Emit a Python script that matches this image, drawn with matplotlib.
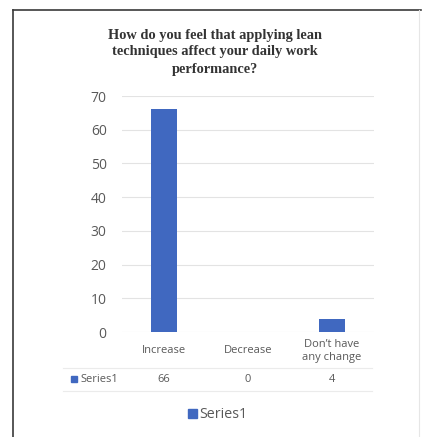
import matplotlib
matplotlib.use("Agg")
import matplotlib.pyplot as plt
from matplotlib.lines import Line2D
from matplotlib.patches import Rectangle

title = "How do you feel that applying lean\ntechniques affect your daily work\nperformance?"
categories = ["Increase", "Decrease", "Don\u2019t have\nany change"]
values = [66, 0, 4]
series_name = "Series1"
yticks = [0, 10, 20, 30, 40, 50, 60, 70]

bar_color = "#4068C0"
text_gray = "#595959"
font = ["Open Sans", "DejaVu Sans"]

W, H = 422, 437
fig = plt.figure(figsize=(W / 100, H / 100), dpi=100)
fig.patch.set_facecolor("white")

def fx(px):
    return px / W

def fy(py):
    return 1 - py / H

ax = fig.add_axes([fx(122), fy(332), fx(374) - fx(122), fy(96) - fy(332)])
x = list(range(len(categories)))
ax.bar(x, values, width=0.31, color=bar_color, zorder=3)
ax.set_xlim(-0.5, len(categories) - 0.5)
ax.set_ylim(0, 70)
ax.set_yticks(yticks)
ax.set_yticklabels([str(t) for t in yticks], fontsize=10, color=text_gray, family=font)
ax.tick_params(axis="y", length=0, pad=11)
ax.set_xticks(x)
ax.set_xticklabels(categories, fontsize=8, color=text_gray, family=font, linespacing=1.3)
for lab in ax.get_xticklabels():
    lab.set_verticalalignment("center")
ax.tick_params(axis="x", length=0, pad=13.5)
for s in ax.spines.values():
    s.set_visible(False)
ax.grid(axis="y", color="#e3e3e3", linewidth=0.8, zorder=0)

# data table row
ty = fy(380)
trans = matplotlib.transforms.blended_transform_factory(ax.transData, fig.transFigure)
for xi, v in zip(x, values):
    fig.text(xi, ty, str(v), transform=trans, ha="center", va="center",
             fontsize=8, color=text_gray, family=font)
fig.patches.append(Rectangle((fx(71), fy(382)), fx(6), fy(376) - fy(382),
                             transform=fig.transFigure, color=bar_color))
fig.text(fx(80), ty, series_name, ha="left", va="center", fontsize=8,
         color=text_gray, family=font)
for yy in (368, 391):
    fig.lines.append(Line2D([fx(63), fx(372)], [fy(yy), fy(yy)], transform=fig.transFigure,
                            color="#ebebeb", linewidth=0.8))

# legend
fig.patches.append(Rectangle((fx(188), fy(418)), fx(9), fy(409) - fy(418),
                             transform=fig.transFigure, color=bar_color))
fig.text(fx(199), fy(414), series_name, ha="left", va="center", fontsize=10.3,
         color=text_gray, family=font)

# title
fig.text(fx(215), fy(52), title, ha="center", va="center", fontsize=10.4,
         fontweight="bold", family=["Liberation Serif", "DejaVu Serif"],
         color="#333333", linespacing=1.4)

# frame of the scanned chart
fig.lines.append(Line2D([fx(13), fx(421)], [fy(10), fy(10)], transform=fig.transFigure,
                        color="#3a3a3a", linewidth=1.2))
fig.lines.append(Line2D([fx(13), fx(13)], [fy(10), fy(437)], transform=fig.transFigure,
                        color="#3a3a3a", linewidth=1.2))
fig.lines.append(Line2D([fx(419), fx(419)], [fy(10), fy(437)], transform=fig.transFigure,
                        color="#e6e6e6", linewidth=0.8))

fig.savefig("out.png", dpi=100, facecolor="white")
